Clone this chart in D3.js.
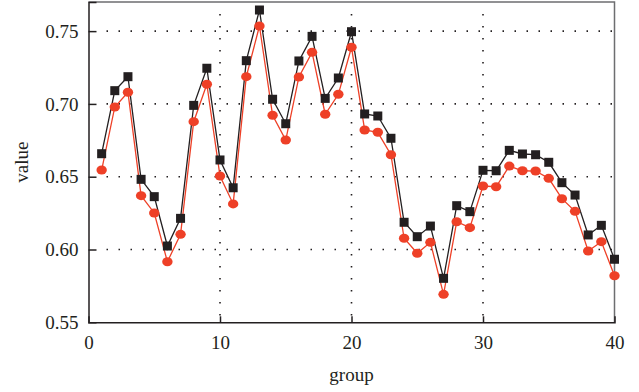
<!DOCTYPE html>
<html>
<head>
<meta charset="utf-8">
<script src="https://cdn.jsdelivr.net/npm/d3@7"></script>
<style>
  body { margin: 0; background: #fff; }
</style>
</head>
<body>
<svg width="639" height="392"></svg>
<script>
const groups = d3.range(1, 41)
const blackSeries = [0.6658, 0.7091, 0.7187, 0.6482, 0.6363, 0.6024, 0.6214, 0.6990, 0.7245, 0.6615,
  0.6424, 0.7297, 0.7645, 0.7032, 0.6864, 0.7295, 0.7464, 0.7038, 0.7178, 0.7496,
  0.6931, 0.6917, 0.6764, 0.6187, 0.6088, 0.6161, 0.5802, 0.6301, 0.6260, 0.6544,
  0.6541, 0.6681, 0.6656, 0.6651, 0.6599, 0.6459, 0.6374, 0.6100, 0.6166, 0.5933]
const redSeries = [0.6546, 0.6979, 0.7080, 0.6370, 0.6251, 0.5916, 0.6104, 0.6878, 0.7135, 0.6505,
  0.6313, 0.7187, 0.7535, 0.6922, 0.6752, 0.7185, 0.7354, 0.6929, 0.7066, 0.7389,
  0.6821, 0.6805, 0.6651, 0.6077, 0.5974, 0.6049, 0.5692, 0.6191, 0.6150, 0.6436,
  0.6431, 0.6573, 0.6541, 0.6539, 0.6489, 0.6349, 0.6262, 0.5990, 0.6054, 0.5820]
const xTicks = [0, 10, 20, 30, 40]
const yTicks = [0.55, 0.60, 0.65, 0.70, 0.75]

const FONT = '"Liberation Serif", "DejaVu Serif", serif'
const INK = '#231f20'

const svg = d3.select("svg")
const pLeft = 88.5, pRight = 614.5, pTop = 2, pBottom = 322.3

const x = d3.scaleLinear().domain([0, 40]).range([pLeft, pRight])
const y = d3.scaleLinear().domain([0.55, 0.77]).range([pBottom, pTop])

// dotted grid
const grid = svg.append('g')
  .attr('stroke', INK)
  .attr('stroke-width', 1.6)
  .attr('stroke-dasharray', '1.5,10.5')
grid.selectAll('line.h')
  .data(yTicks.slice(1)).enter()
  .append('line')
  .attr('x1', pLeft + 18).attr('x2', pRight)
  .attr('y1', d => y(d)).attr('y2', d => y(d))
grid.selectAll('line.v')
  .data(xTicks.slice(1, -1)).enter()
  .append('line')
  .attr('x1', d => x(d)).attr('x2', d => x(d))
  .attr('y1', pTop + 12).attr('y2', pBottom)

// frame: top/right gray
svg.append('path')
  .attr('d', `M${pLeft},${pTop}H${pRight}V${pBottom}`)
  .attr('fill', 'none')
  .attr('stroke', '#6d6e70')
  .attr('stroke-width', 1.5)

const xAxis = svg.append('g')
  .attr('transform', `translate(0,${pBottom})`)
  .call(d3.axisBottom(x).tickValues(xTicks).tickSize(-6).tickPadding(13).tickFormat(d3.format('d')))
const yAxis = svg.append('g')
  .attr('transform', `translate(${pLeft},0)`)
  .call(d3.axisLeft(y).tickValues(yTicks).tickSize(-8).tickPadding(10).tickFormat(d3.format('.2f')))

;[xAxis, yAxis].forEach(a => {
  a.attr('font-family', FONT)
  a.select('.domain').attr('stroke', INK).attr('stroke-width', 1.5)
  a.selectAll('.tick line').attr('stroke', INK).attr('stroke-width', 1.5)
  a.selectAll('text')
    .style('font-family', FONT)
    .style('font-size', '19px')
    .attr('fill', INK)
})
xAxis.selectAll('.tick').filter(d => d === 0 || d === 40).select('line').remove()
yAxis.selectAll('.tick').filter(d => d === 0.55).select('line').remove()

// lines
const line = arr => d3.line().x((d, i) => x(groups[i])).y(d => y(d))(arr)

svg.append('path')
  .attr('d', line(blackSeries))
  .attr('fill', 'none')
  .attr('stroke', INK)
  .attr('stroke-width', 1.3)

svg.append('path')
  .attr('d', line(redSeries))
  .attr('fill', 'none')
  .attr('stroke', '#ee4027')
  .attr('stroke-width', 1.3)

svg.append('g').selectAll('rect')
  .data(blackSeries).enter()
  .append('rect')
  .attr('x', (d, i) => x(groups[i]) - 4.5)
  .attr('y', d => y(d) - 4.5)
  .attr('width', 9).attr('height', 9)
  .attr('fill', INK)

svg.append('g').selectAll('ellipse')
  .data(redSeries).enter()
  .append('ellipse')
  .attr('cx', (d, i) => x(groups[i]))
  .attr('cy', d => y(d))
  .attr('rx', 5.2).attr('ry', 4.5)
  .attr('fill', '#ee4027')

svg.append('text')
  .attr('x', (pLeft + pRight) / 2)
  .attr('y', 381)
  .attr('text-anchor', 'middle')
  .style('font-family', FONT)
  .style('font-size', '19px')
  .attr('fill', INK)
  .text('group')

svg.append('text')
  .attr('transform', `translate(28,${(pTop + pBottom) / 2}) rotate(-90)`)
  .attr('text-anchor', 'middle')
  .style('font-family', FONT)
  .style('font-size', '19px')
  .attr('fill', INK)
  .text('value')
</script>
</body>
</html>
